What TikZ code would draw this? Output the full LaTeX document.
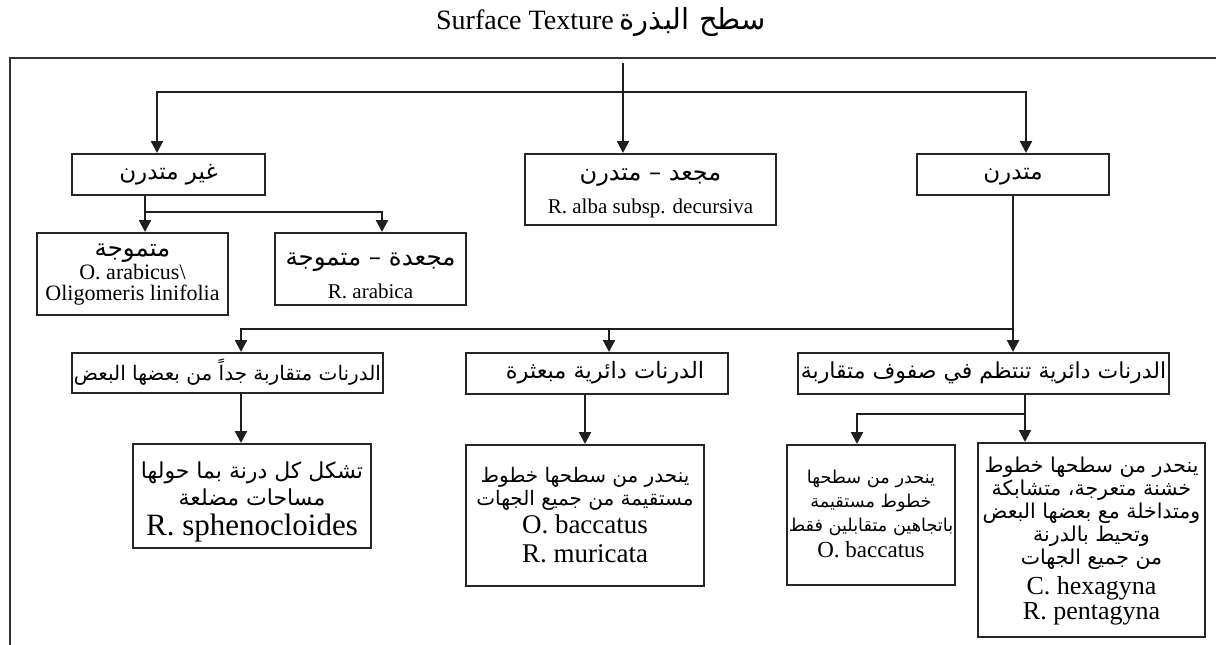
\documentclass[tikz,border=0pt]{standalone}
\usepackage{fontspec}
\setmainfont{Liberation Serif}
\newfontfamily\arabicfont[Script=Arabic]{DejaVu Sans}
\TeXXeTstate=1
\usetikzlibrary{arrows.meta}
\newcommand{\arf}[1]{\fontsize{#1}{#1}\selectfont\arabicfont}
\newcommand{\laf}[1]{\fontsize{#1}{#1}\selectfont}
\newcommand{\bsk}[1]{\fontsize{20}{#1}\selectfont\lineskiplimit=-40pt\lineskip=0pt}
\newcommand{\fst}[2]{\raisebox{0pt}[#1pt][0pt]{#2}}
\newcommand{\lst}[1]{\raisebox{0pt}[10pt][0pt]{#1}}
\begin{document}
\begin{tikzpicture}[x=1pt,y=-1pt,
  box/.style={draw=black!85, line width=2pt, align=center, inner sep=0pt, fill=white},
  one/.style={box, text height=15pt, text depth=5pt},
  ln/.style={draw=black!88, line width=2.2pt},
  arr/.style={ln, -{Triangle[width=12pt,length=12pt]}},
  arrb/.style={ln, {Triangle[width=12pt,length=12pt]}-{Triangle[width=12pt,length=12pt]}},
  frame/.style={draw=black!80, line width=1.6pt}]
\useasboundingbox (0,0) rectangle (1216,645);

% title
\node[inner sep=0pt] (title) at (601,22) {{\laf{28}Surface Texture}\hspace{6pt}{\arf{29}\beginR سطح البذرة\endR}};

% frame
\coordinate (fa) at (1216,58);
\coordinate (fb) at (10,58);
\coordinate (fc) at (10,645);
\draw[frame] (fa) -- (fb) -- (fc);

% first level
\node[one, minimum width=193pt, minimum height=41pt, font=\bsk{26}] (b1) at (168.5,174.5) {{\arf{23}\beginR غير متدرن\endR}};
\node[box, minimum width=251pt, minimum height=71pt, font=\bsk{33}] (b2) at (650.5,189.5) {\fst{14}{\arf{24}\beginR مجعد – متدرن\endR}\\ \lst{\laf{21}R. alba subsp. decursiva}};
\node[one, minimum width=192pt, minimum height=41pt, font=\bsk{26}] (b3) at (1013,174.5) {{\arf{23}\beginR متدرن\endR}};

% second level (left)
\node[box, minimum width=191pt, minimum height=82pt, font=\bsk{21}] (b4) at (132.5,274) {\fst{8}{\arf{24.5}\beginR متموجة\endR}\\[2pt] {\laf{22}O. arabicus\textbackslash}\\ \lst{\laf{22}Oligomeris linifolia}};
\node[box, minimum width=191pt, minimum height=72pt, font=\bsk{33}] (b5) at (370.5,269) {\fst{25}{\arf{24.5}\beginR مجعدة – متموجة\endR}\\ \lst{\laf{21}R. arabica}};

% third level
\node[box, minimum width=311pt, minimum height=40pt, font=\bsk{26}, text height=17pt, text depth=3pt] (b6) at (227.5,373) {{\arf{20}\beginR الدرنات متقاربة جداً من بعضها البعض\endR}};
\node[one, minimum width=262pt, minimum height=41pt, font=\bsk{26}] (b7) at (597,373.5) {\hspace{16pt}{\arf{22.5}\beginR الدرنات دائرية مبعثرة\endR}};
\node[one, minimum width=371pt, minimum height=41pt, font=\bsk{26}] (b8) at (983.5,373.5) {{\arf{22}\beginR الدرنات دائرية تنتظم في صفوف متقاربة\endR}};

% fourth level
\node[box, minimum width=238pt, minimum height=104pt, font=\bsk{27}] (b9) at (252,496) {\fst{21}{\arf{22}\beginR تشكل كل درنة بما حولها\endR}\\ {\arf{22}\beginR مساحات مضلعة\endR}\\[3pt] \lst{\laf{31}R. sphenocloides}};
\node[box, minimum width=238pt, minimum height=141pt, font=\bsk{23}] (b10) at (585,515.5) {\fst{13}{\arf{20}\beginR ينحدر من سطحها خطوط\endR}\\ {\arf{20}\beginR مستقيمة من جميع الجهات\endR}\\[5pt] {\laf{27}O. baccatus}\\[6pt] \lst{\laf{27}R. muricata}};
\node[box, minimum width=168pt, minimum height=140pt, font=\bsk{24}] (b11) at (871,515) {\fst{10}{\arf{17.7}\beginR ينحدر من سطحها\endR}\\ {\arf{17.7}\beginR خطوط مستقيمة\endR}\\ {\arf{17.7}\beginR باتجاهين متقابلين فقط\endR}\\[2pt] \lst{\laf{23}O. baccatus}};
\node[box, minimum width=227pt, minimum height=194pt, font=\bsk{23}] (b12) at (1091.5,540) {\fst{11}{\arf{20.5}\beginR ينحدر من سطحها خطوط\endR}\\ {\arf{20.5}\beginR خشنة متعرجة، متشابكة\endR}\\ {\arf{20.5}\beginR ومتداخلة مع بعضها البعض\endR}\\ {\arf{20.5}\beginR وتحيط بالدرنة\endR}\\ {\arf{20.5}\beginR من جميع الجهات\endR}\\[7pt] {\laf{26}C. hexagyna}\\[2pt] \lst{\laf{26}R. pentagyna}};

% connectors
\coordinate (t0) at (623,63);
\draw[arr] (t0) -- (t0 |- b2.north);
\coordinate (bl) at (157,92);
\coordinate (br) at (1026,92);
\draw[arrb] (bl |- b1.north) -- (bl) -- (br) -- (br |- b3.north);

\coordinate (c1) at (145,212);
\coordinate (c2) at (382,212);
\draw[arr] (c1 |- b1.south) -- (c1 |- b4.north);
\draw[arr] (c1) -- (c2) -- (c2 |- b5.north);

\coordinate (d0) at (1013,329);
\coordinate (d1) at (241,329);
\coordinate (d2) at (609,329);
\draw[arr] (d0 |- b3.south) -- (d0 |- b8.north);
\draw[arr] (d0) -- (d1) -- (d1 |- b6.north);
\draw[arr] (d2) -- (d2 |- b7.north);

\draw[arr] (d1 |- b6.south) -- (d1 |- b9.north);
\coordinate (e0) at (585,420);
\draw[arr] (e0 |- b7.south) -- (e0 |- b10.north);

\coordinate (f0) at (1025,414);
\coordinate (f1) at (857,414);
\draw[arr] (f0 |- b8.south) -- (f0 |- b12.north);
\draw[arr] (f0) -- (f1) -- (f1 |- b11.north);
\end{tikzpicture}
\end{document}
